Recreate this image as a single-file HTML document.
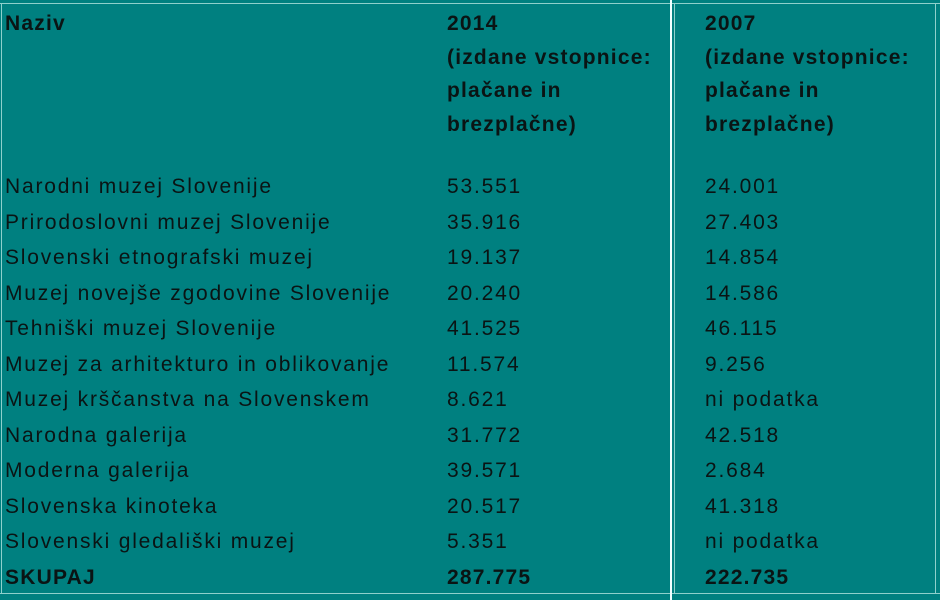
<!DOCTYPE html><html><head><style>
body{margin:0;width:940px;height:600px;background:#008080;position:relative;overflow:hidden;font-family:"Liberation Sans",sans-serif;color:#0a1414;font-size:21px;letter-spacing:1.8px}
.t{position:absolute;white-space:nowrap;line-height:20px}
.b{font-weight:bold;letter-spacing:1.2px}
.ln{position:absolute;background:#8fd0cc}
</style></head><body>
<div class="ln" style="left:0;top:3px;width:940px;height:1px"></div>
<div class="ln" style="left:1px;top:3px;width:1px;height:591px"></div>
<div class="ln" style="left:0;top:593px;width:940px;height:1px"></div>
<div class="ln" style="left:935px;top:3px;width:1px;height:591px"></div>
<div class="ln" style="left:674px;top:3px;width:1px;height:591px"></div>
<div style="position:absolute;left:670px;top:0;width:2px;height:600px;background:#f0ffff"></div>
<div class="t b" style="left:5px;top:7px;line-height:33.7px">Naziv</div>
<div class="t b" style="left:447px;top:7px;line-height:33.7px">2014<br>(izdane vstopnice:<br>plačane in<br>brezplačne)</div>
<div class="t b" style="left:705px;top:7px;line-height:33.7px">2007<br>(izdane vstopnice:<br>plačane in<br>brezplačne)</div>
<div class="t" style="left:5px;top:169px;line-height:35.5px">Narodni muzej Slovenije<br>Prirodoslovni muzej Slovenije<br>Slovenski etnografski muzej<br>Muzej novejše zgodovine Slovenije<br>Tehniški muzej Slovenije<br>Muzej za arhitekturo in oblikovanje<br>Muzej krščanstva na Slovenskem<br>Narodna galerija<br>Moderna galerija<br>Slovenska kinoteka<br>Slovenski gledališki muzej<br><b class="b">SKUPAJ</b></div>
<div class="t" style="left:447px;top:169px;line-height:35.5px">53.551<br>35.916<br>19.137<br>20.240<br>41.525<br>11.574<br>8.621<br>31.772<br>39.571<br>20.517<br>5.351<br><b class="b">287.775</b></div>
<div class="t" style="left:705px;top:169px;line-height:35.5px">24.001<br>27.403<br>14.854<br>14.586<br>46.115<br>9.256<br>ni podatka<br>42.518<br>2.684<br>41.318<br>ni podatka<br><b class="b">222.735</b></div>
</body></html>
